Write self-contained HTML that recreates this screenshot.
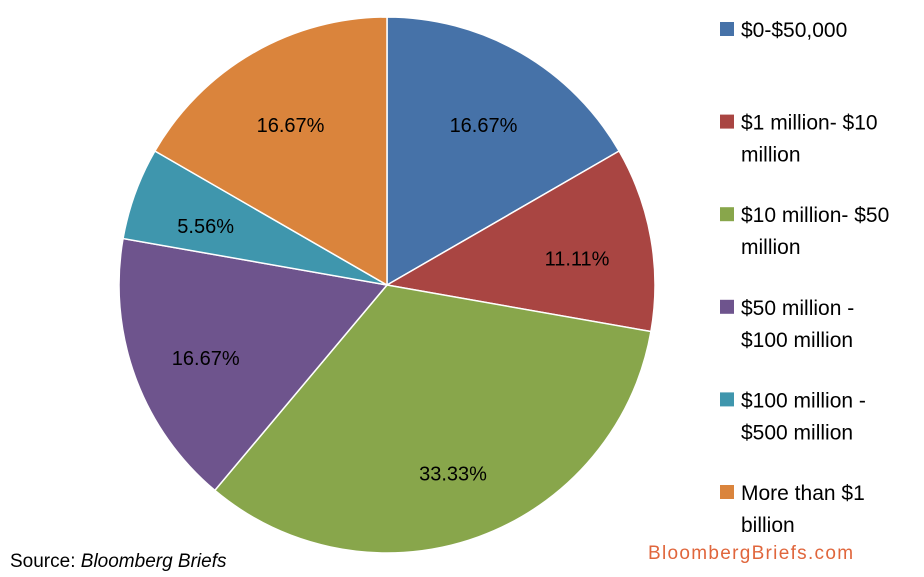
<!DOCTYPE html>
<html><head><meta charset="utf-8"><style>
body{margin:0;background:#fff;width:924px;height:572px;overflow:hidden;font-family:"Liberation Sans",sans-serif}
</style></head><body>
<svg width="924" height="572">
<g id="pie"></g>
<g id="legend"></g>
<text x="10" y="567" font-size="19" fill="#000">Source: <tspan font-style="italic">Bloomberg Briefs</tspan></text>
<text x="648" y="559" font-size="19" fill="#e0663c" letter-spacing="1.3">BloombergBriefs.com</text>
</svg>
<script>
const categories=["$0-$50,000","$1 million- $10|million","$10 million- $50|million","$50 million -|$100 million","$100 million -|$500 million","More than $1|billion"];
const values=[16.67,11.11,33.33,16.67,5.56,16.67];
const colors=["#4672a8","#a94542","#88a64b","#6e548d","#3f96ad","#da843c"];
const ns="http://www.w3.org/2000/svg";
const cx=387,cy=285,r=268;
const pie=document.getElementById('pie'),leg=document.getElementById('legend');
const total=values.reduce((a,b)=>a+b,0);
let a0=0;
values.forEach((v,i)=>{
  const a1=a0+v/total*2*Math.PI;
  const p=(a)=>[cx+r*Math.sin(a),cy-r*Math.cos(a)];
  const [x0,y0]=p(a0),[x1,y1]=p(a1);
  const path=document.createElementNS(ns,'path');
  path.setAttribute('d',`M${cx},${cy}L${x0},${y0}A${r},${r} 0 ${a1-a0>Math.PI?1:0} 1 ${x1},${y1}Z`);
  path.setAttribute('fill',colors[i]);path.setAttribute('stroke','#fff');path.setAttribute('stroke-width','1.5');
  
  
  pie.appendChild(path);
  const am=(a0+a1)/2,lr=r*0.72;
  const t=document.createElementNS(ns,'text');
  t.setAttribute('x',cx+lr*Math.sin(am));t.setAttribute('y',cy-lr*Math.cos(am)+14);
  t.setAttribute('text-anchor','middle');t.setAttribute('font-size','20');
  t.textContent=v.toFixed(2)+'%';
  
  
  pie.appendChild(t);
  a0=a1;
  const y=29+i*92.6;
  const sq=document.createElementNS(ns,'rect');
  sq.setAttribute('x',720);sq.setAttribute('y',y-7);sq.setAttribute('width',14);sq.setAttribute('height',14);sq.setAttribute('fill',colors[i]);
  
  
  leg.appendChild(sq);
  categories[i].split('|').forEach((ln,j)=>{
    const lt=document.createElementNS(ns,'text');
    lt.setAttribute('x',741);lt.setAttribute('y',y+8+j*32);lt.setAttribute('font-size','21');
    lt.textContent=ln;
    
    
    leg.appendChild(lt);
  });
});
</script>
</body></html>
